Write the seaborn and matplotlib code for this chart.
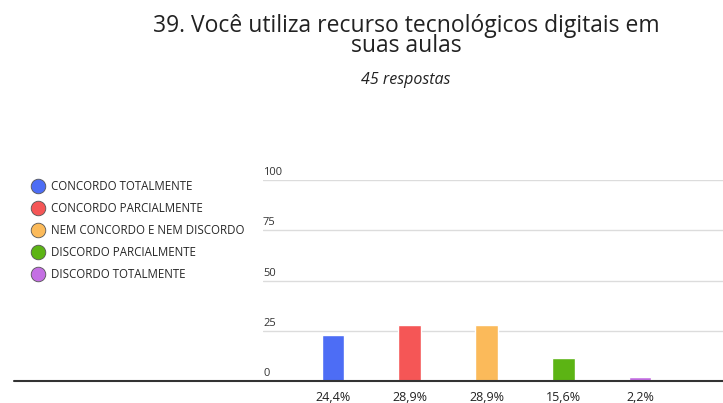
import matplotlib
matplotlib.use("Agg")
import matplotlib.pyplot as plt
import matplotlib.transforms as mtransforms
from matplotlib.lines import Line2D
import seaborn as sns
import pandas as pd

# data
categories = ["CONCORDO TOTALMENTE", "CONCORDO PARCIALMENTE",
              "NEM CONCORDO E NEM DISCORDO", "DISCORDO PARCIALMENTE",
              "DISCORDO TOTALMENTE"]
bar_heights = [23.0, 28.0, 28.0, 11.5, 2.2]
pct_labels = ["24,4%", "28,9%", "28,9%", "15,6%", "2,2%"]
colors = ["#4d6df5", "#f55656", "#fbba5a", "#5cb414", "#c46fe3"]
y_ticks = [0, 25, 50, 75, 100]

title = "39. Você utiliza recurso tecnológicos digitais em\nsuas aulas"
subtitle = "45 respostas"

sns.set_theme(style="white")
plt.rcParams["font.family"] = ["Open Sans", "DejaVu Sans"]

df = pd.DataFrame({"cat": categories, "val": bar_heights})

fig = plt.figure(figsize=(7.23, 4.03), dpi=100)
ax = fig.add_axes([263 / 723, 22 / 403, 460 / 723, (381 - 180) / 403])

sns.barplot(data=df, x="cat", y="val", hue="cat", palette=colors,
            order=categories, hue_order=categories, legend=False,
            width=0.295, saturation=1, ax=ax, zorder=2)

ax.set_xlim(-0.91, 5.08)
ax.set_ylim(0, 100)
for s in ax.spines.values():
    s.set_visible(False)
ax.set_xlabel("")
ax.set_ylabel("")

# gridlines + labels sitting above them
ax.set_yticks(y_ticks)
ax.set_yticklabels([])
ax.tick_params(axis="y", length=0)
for v in y_ticks[1:]:
    ax.axhline(v, color="#dcdcdc", lw=1, zorder=0)
trans = mtransforms.blended_transform_factory(ax.transAxes, ax.transData)
for v in y_ticks:
    ax.text(0.0, v + 3.7, str(v), transform=trans, fontsize=8,
            color="#333333", ha="left", va="center")

# baseline running out to the left
ax.axhline(0, xmin=(14 - 263) / 460, xmax=1, color="#333333", lw=1.5,
           clip_on=False, zorder=3)

ax.set_xticks(range(len(categories)))
ax.set_xticklabels(pct_labels, fontsize=9, color="#222222")
ax.tick_params(axis="x", length=0, pad=7)

handles = [Line2D([0], [0], marker="o", linestyle="", markersize=10.5,
                  markerfacecolor=c, markeredgecolor="#555555",
                  markeredgewidth=0.6) for c in colors]
fig.legend(handles, categories, loc="upper left",
           bbox_to_anchor=(26 / 723, 1 - 175 / 403), frameon=False,
           fontsize=8.3, handletextpad=0.55, labelspacing=0.8,
           handlelength=1.2, borderaxespad=0)

fig.text(406 / 723, 1 - 36 / 403, title, ha="center", va="center",
         fontsize=16.5, color="#222222", linespacing=0.8)
fig.text(406 / 723, 1 - 80 / 403, subtitle, ha="center", va="center",
         fontsize=11.5, style="italic", color="#222222")

fig.savefig("out.png", dpi=100)
